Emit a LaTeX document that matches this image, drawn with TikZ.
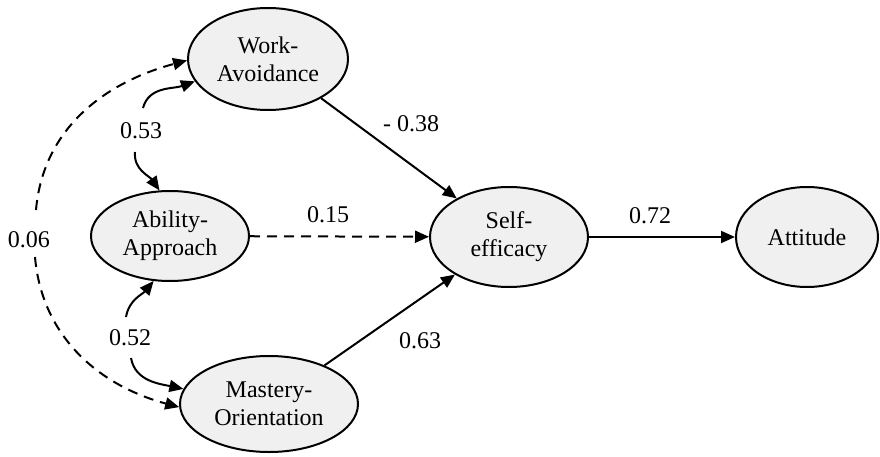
\documentclass[tikz,border=0pt]{standalone}
\usepackage{fontspec}
\setmainfont{Liberation Serif}
\usetikzlibrary{arrows.meta,shapes.geometric}
\definecolor{latfill}{HTML}{F0F0F0}
\begin{document}
\begin{tikzpicture}[x=1pt,y=1pt,
  lat/.style={ellipse, draw, line width=2pt, fill=latfill, inner sep=0pt, align=center, font=\fontsize{24}{28}\selectfont},
  arr/.style={line width=2pt, -{Triangle[length=14pt,width=12pt]}},
  dsh/.style={dash pattern=on 10pt off 7pt},
  lbl/.style={font=\fontsize{24}{28}\selectfont, inner sep=1pt}
]
\useasboundingbox (0,0) rectangle (880,456);

\node[lat, minimum width=160pt, minimum height=102pt] (WA) at (268,397) {Work-\\Avoidance};
\node[lat, minimum width=158pt, minimum height=90pt] (AA) at (170,220) {Ability-\\Approach};
\node[lat, minimum width=178pt, minimum height=96pt] (MO) at (269,52) {Mastery-\\Orientation};
\node[lat, minimum width=158pt, minimum height=100pt] (SE) at (509,219) {Self-\\efficacy};
\node[lat, minimum width=142pt, minimum height=100pt] (AT) at (807,219) {Attitude};

\node[lbl] (l38) at (411,332) {- 0.38};
\node[lbl] (l15) at (328,241) {0.15};
\node[lbl] (l72) at (650,240) {0.72};
\node[lbl] (l63) at (420,115) {0.63};
\node[lbl] (l53) at (141,325) {0.53};
\node[lbl] (l52) at (130,118) {0.52};
\node[lbl] (l06) at (29,216) {0.06};

\coordinate (a53u) at (143,348);
\coordinate (a53d) at (135,304);
\coordinate (a52u) at (126,139);
\coordinate (a52d) at (131,98);
\coordinate (a06u) at (36,246);
\coordinate (a06d) at (35,199);

\draw[arr] (WA) -- (SE);
\draw[arr, dsh] (AA) -- (SE);
\draw[arr] (MO) -- (SE);
\draw[arr] (SE) -- (AT);

\draw[arr] (a53u) to[out=75, in=200] (WA.197);
\draw[arr] (a53d) to[out=-95, in=125] (AA.103);
\draw[arr] (a52u) to[out=80, in=230] (AA.250);
\draw[arr] (a52d) to[out=-80, in=168] (MO.170);
\draw[arr, dsh] (a06u) to[out=85, in=195] (WA.181);
\draw[arr, dsh] (a06d) to[out=-85, in=165] (MO.182);
\end{tikzpicture}
\end{document}
